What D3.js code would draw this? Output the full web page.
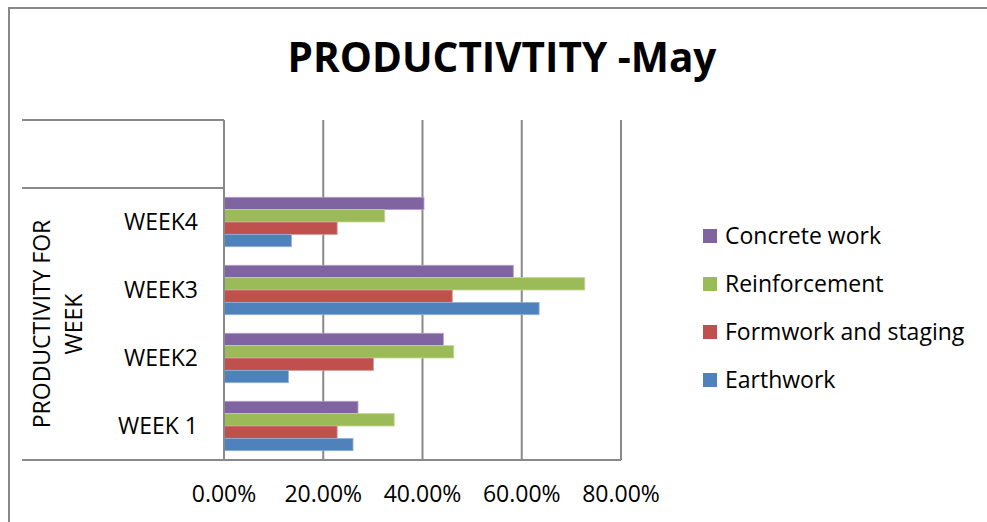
<!DOCTYPE html>
<html>
<head>
<meta charset="utf-8">
<script src="https://cdn.jsdelivr.net/npm/d3@7"></script>
<style>
  html, body { margin: 0; padding: 0; background: #fff; }
  svg { display: block; font-family: "Open Sans", "Noto Sans", sans-serif; }
</style>
</head>
<body>
<svg id="chart" width="987" height="522"></svg>
<script>
// Weekly productivity for May, by work type
const weeks = ["WEEK 1", "WEEK2", "WEEK3", "WEEK4", ""];
const seriesNames = ["Concrete work", "Reinforcement", "Formwork and staging", "Earthwork"];
const concreteWork  = [0.270, 0.442, 0.583, 0.403];
const reinforcement = [0.343, 0.463, 0.727, 0.324];
const formwork      = [0.228, 0.301, 0.460, 0.228];
const earthwork     = [0.260, 0.130, 0.635, 0.136];
const xTicks = [0, 0.2, 0.4, 0.6, 0.8];
const colors = ["#8064A2", "#9BBB59", "#C0504D", "#4F81BD"];
const strokes = ["#b3a2c7", "#c3d69b", "#d99694", "#95b3d7"];

const values = [concreteWork, reinforcement, formwork, earthwork];

const svg = d3.select("#chart");
const plot = { left: 224, right: 621, top: 120, bottom: 460 };
const gridColor = "#898989";

// Outer chart border (top and left edges visible)
svg.append("path")
  .attr("d", "M9,522 L9,8 L987,8")
  .attr("fill", "none").attr("stroke", gridColor).attr("stroke-width", 2);

// Title
svg.append("text")
  .attr("x", 502).attr("y", 72)
  .attr("text-anchor", "middle")
  .attr("font-weight", "bold")
  .attr("font-size", 40.5)
  .attr("fill", "#000")
  .text("PRODUCTIVTITY -May");

const x = d3.scaleLinear().domain([0, 0.8]).range([plot.left, plot.right]);
const y = d3.scaleBand().domain(weeks).range([plot.bottom, plot.top]).paddingInner(0).paddingOuter(0);
const ySub = d3.scaleBand().domain(seriesNames).range([0, y.bandwidth()]).paddingInner(0).paddingOuter(0.75);

// Vertical gridlines
svg.append("g").selectAll("line")
  .data(xTicks.slice(1))
  .join("line")
  .attr("x1", d => x(d)).attr("x2", d => x(d))
  .attr("y1", plot.top).attr("y2", plot.bottom)
  .attr("stroke", gridColor).attr("stroke-width", 2);

// Bars
weeks.slice(0, 4).forEach((wk, i) => {
  const g = svg.append("g").attr("transform", `translate(0,${y(wk)})`);
  g.selectAll("rect")
    .data(seriesNames.map((s, j) => ({ s, j, v: values[j][i] })))
    .join("rect")
    .attr("x", x(0))
    .attr("y", d => ySub(d.s))
    .attr("width", d => x(d.v) - x(0))
    .attr("height", ySub.bandwidth())
    .attr("fill", d => colors[d.j])
    .attr("stroke", d => strokes[d.j])
    .attr("stroke-width", 0.8);
});

// Category axis: vertical line and group separators
svg.append("line")
  .attr("x1", plot.left).attr("x2", plot.left)
  .attr("y1", plot.top).attr("y2", plot.bottom)
  .attr("stroke", gridColor).attr("stroke-width", 2);
svg.append("line")
  .attr("x1", 22).attr("x2", plot.right)
  .attr("y1", plot.bottom).attr("y2", plot.bottom)
  .attr("stroke", gridColor).attr("stroke-width", 2);
[y(""), y("WEEK4")].forEach(yy => {
  svg.append("line")
    .attr("x1", 22).attr("x2", plot.left)
    .attr("y1", yy).attr("y2", yy)
    .attr("stroke", gridColor).attr("stroke-width", 2);
});

// Category labels
svg.append("g").selectAll("text")
  .data(weeks.filter(w => w !== ""))
  .join("text")
  .attr("x", 198)
  .attr("y", d => y(d) + y.bandwidth() / 2)
  .attr("dy", "0.35em")
  .attr("text-anchor", "end")
  .attr("font-size", 23)
  .attr("fill", "#000")
  .text(d => d);

// Group label (rotated, two lines)
const groupMid = (y("WEEK4") + plot.bottom) / 2;
const gl = svg.append("text")
  .attr("transform", `translate(50,${groupMid}) rotate(-90)`)
  .attr("text-anchor", "middle")
  .attr("font-size", 23)
  .attr("fill", "#000");
gl.append("tspan").attr("x", 0).attr("y", 0).text("PRODUCTIVITY FOR");
gl.append("tspan").attr("x", 0).attr("y", 32).text("WEEK");

// Value axis labels
const fmt = d3.format(".2%");
svg.append("g").selectAll("text")
  .data(xTicks)
  .join("text")
  .attr("x", d => x(d))
  .attr("y", 502)
  .attr("text-anchor", "middle")
  .attr("font-size", 23)
  .attr("fill", "#000")
  .text(d => fmt(d));

// Legend
const legend = svg.append("g");
const legendY = [236, 284, 332, 380];
seriesNames.forEach((s, j) => {
  legend.append("rect")
    .attr("x", 703).attr("y", legendY[j] - 7)
    .attr("width", 14).attr("height", 14)
    .attr("fill", colors[j]);
  legend.append("text")
    .attr("x", 725).attr("y", legendY[j])
    .attr("dy", "0.35em")
    .attr("font-size", 23)
    .attr("fill", "#000")
    .text(s);
});
</script>
</body>
</html>
